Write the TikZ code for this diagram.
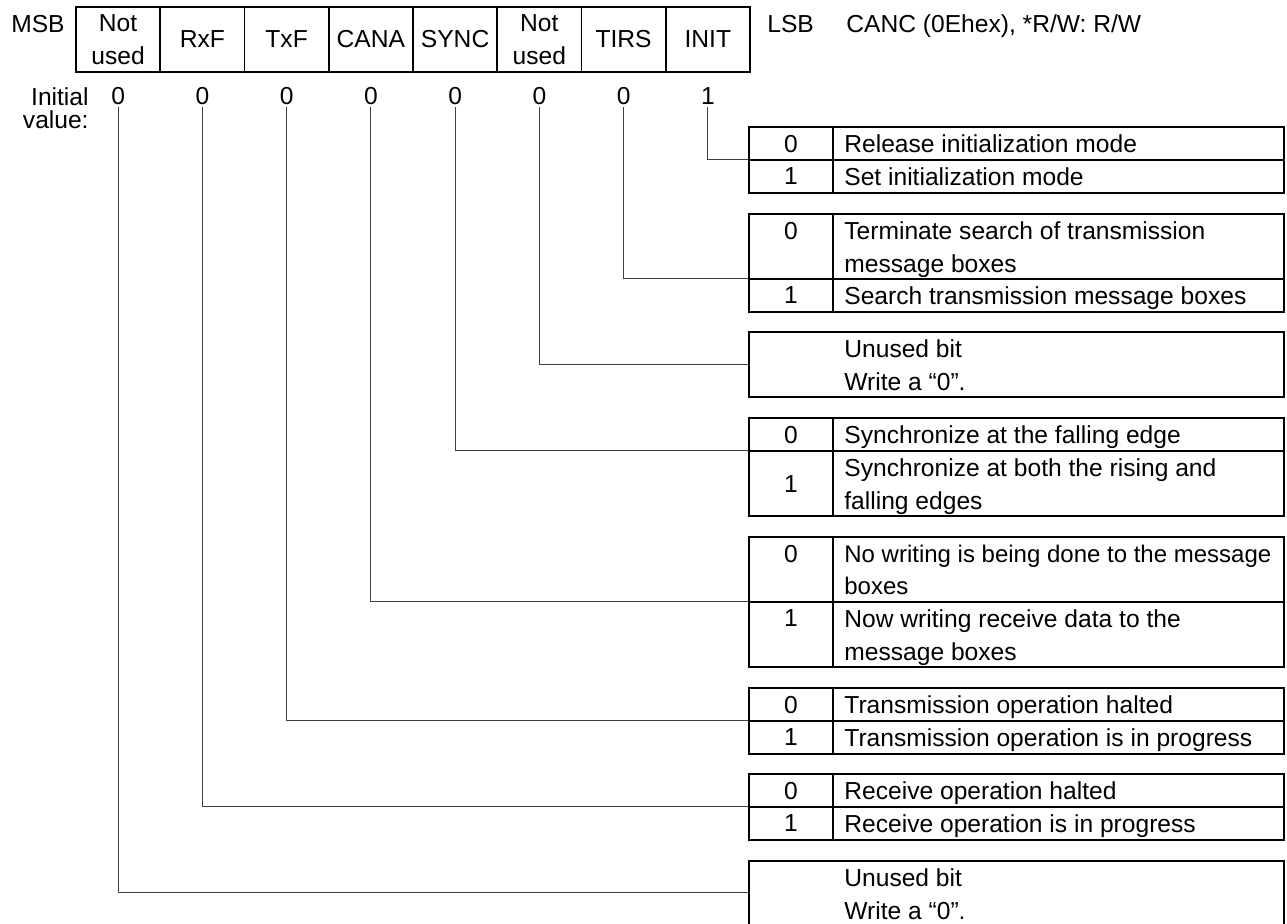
\documentclass[tikz,border=0pt]{standalone}
\usepackage{fontspec}
\setmainfont{Liberation Sans}
\usetikzlibrary{positioning}

\begin{document}
\begin{tikzpicture}[x=0.5pt, y=-0.5pt,
    every node/.style={font=\fontsize{12.3}{16.25}\selectfont, inner sep=0pt},
    bitcell/.style={draw, line width=0.85pt, outer sep=0pt, minimum width=42.125pt, minimum height=32.5pt, align=center},
    valnum/.style={anchor=base, inner ysep=1pt},
    tbl/.style={line width=0.85pt},
    lead/.style={line width=0.5pt, black!75},
    num/.style={anchor=north},
    txt/.style={anchor=north west, align=left}]
\useasboundingbox (0,0) rectangle (1287,924);
% register CANC, bit 7 on the left
\node[anchor=base east] (msb) at (65,32.5) {MSB};
\node[bitcell] (b7) at (118.1,39.5) {Not\\used};
\foreach \n/\p/\t in {6/7/RxF, 5/6/TxF, 4/5/CANA, 3/4/SYNC, 2/3/{Not\\used}, 1/2/TIRS, 0/1/INIT} {
    \node[bitcell, right=0pt of b\p] (b\n) {\t};
}
\node[anchor=base west] (lsb) at (767,32.5) {LSB};
\node[anchor=base west] (regname) at (846,32.5) {CANC (0Ehex), *R/W: R/W};
% initial values
\node[anchor=north east, align=right, font=\fontsize{12.3}{11.75}\selectfont] (initlbl) at (89,87) {Initial\\value:};
\coordinate (valrow) at (0,104.5);
\foreach \n/\v in {7/0, 6/0, 5/0, 4/0, 3/0, 2/0, 1/0, 0/1} {
    \node[valnum] (v\n) at (b\n |- valrow) {\v};
}
% where each bit meets its table
\coordinate (t0) at (749,160);
\coordinate (t1) at (749,279);
\coordinate (t2) at (749,365);
\coordinate (t3) at (749,451);
\coordinate (t4) at (749,602);
\coordinate (t5) at (749,721);
\coordinate (t6) at (749,807);
\coordinate (t7) at (749,893);
\foreach \n in {0,...,7} {
    \draw[lead] (v\n.south) |- (t\n);
}
% INIT
\draw[tbl] (749,127) rectangle (1284,193) (749,160) -- (1284,160) (833,127) -- (833,193);
\node[num] (n0a) at (791,134.5) {0};
\node[txt] (d0a) at (844,134.5) {Release initialization mode};
\node[num] (n0b) at (791,167.5) {1};
\node[txt] (d0b) at (844,167.5) {Set initialization mode};
% TIRS
\draw[tbl] (749,214) rectangle (1284,312) (749,279) -- (1284,279) (833,214) -- (833,312);
\node[num] (n1a) at (791,221.5) {0};
\node[txt] (d1a) at (844,221.5) {Terminate search of transmission\\message boxes};
\node[num] (n1b) at (791,286.5) {1};
\node[txt] (d1b) at (844,286.5) {Search transmission message boxes};
% bit 2 not used
\draw[tbl] (749,332) rectangle (1284,397);
\node[txt] (d2) at (844,339.5) {Unused bit\\Write a “0”.};
% SYNC
\draw[tbl] (749,418) rectangle (1284,516) (749,451) -- (1284,451) (833,418) -- (833,516);
\node[num] (n3a) at (791,425.5) {0};
\node[txt] (d3a) at (844,425.5) {Synchronize at the falling edge};
\node[num] (n3b) at (791,475) {1};
\node[txt] (d3b) at (844,458.5) {Synchronize at both the rising and\\falling edges};
% CANA
\draw[tbl] (749,537) rectangle (1284,667) (749,602) -- (1284,602) (833,537) -- (833,667);
\node[num] (n4a) at (791,544.5) {0};
\node[txt, font=\fontsize{12}{16.25}\selectfont] (d4a) at (844,544.5) {No writing is being done to the message\\boxes};
\node[num] (n4b) at (791,609.5) {1};
\node[txt] (d4b) at (844,609.5) {Now writing receive data to the\\message boxes};
% TxF
\draw[tbl] (749,688) rectangle (1284,754) (749,721) -- (1284,721) (833,688) -- (833,754);
\node[num] (n5a) at (791,695.5) {0};
\node[txt] (d5a) at (844,695.5) {Transmission operation halted};
\node[num] (n5b) at (791,728.5) {1};
\node[txt] (d5b) at (844,728.5) {Transmission operation is in progress};
% RxF
\draw[tbl] (749,774) rectangle (1284,840) (749,807) -- (1284,807) (833,774) -- (833,840);
\node[num] (n6a) at (791,781.5) {0};
\node[txt] (d6a) at (844,781.5) {Receive operation halted};
\node[num] (n6b) at (791,814.5) {1};
\node[txt] (d6b) at (844,814.5) {Receive operation is in progress};
% bit 7 not used
\draw[tbl] (749,861) rectangle (1284,926);
\node[txt] (d7) at (844,868.5) {Unused bit\\Write a “0”.};
\end{tikzpicture}
\end{document}
